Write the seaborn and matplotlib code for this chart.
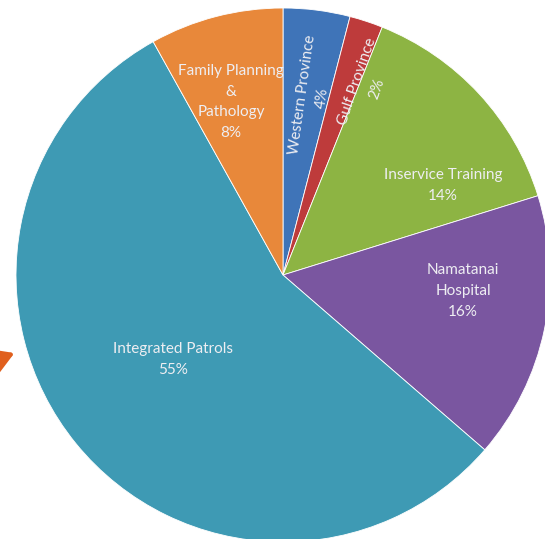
import matplotlib
matplotlib.use("Agg")
import matplotlib.pyplot as plt
import seaborn as sns
import numpy as np

sns.set_theme(style="white")
plt.rcParams["font.family"] = ["Lato", "DejaVu Sans"]

# Share of activities, clockwise from 12 o'clock
categories = ["Western Province", "Gulf Province", "Inservice Training",
              "Namatanai\nHospital", "Integrated Patrols", "Family Planning\n&\nPathology"]
shares = [4, 2, 14, 16, 55, 8]
colors = ["#3F74B8", "#BE3B3B", "#8DB443", "#7A56A0", "#3E9AB4", "#E8883A"]

# Label placement inside each wedge (data units, pie radius = 1) and rotation
label_pos = [(0.110, 0.670), (0.315, 0.712), (0.600, 0.335),
             (0.674, -0.060), (-0.412, -0.315), (-0.195, 0.648)]
label_rot = [82, 71, 0, 0, 0, 0]

fig = plt.figure(figsize=(5.45, 5.39), dpi=100)
ax = fig.add_axes([0, 0, 1, 1])

wedges, _ = ax.pie(shares, colors=colors, startangle=90, counterclock=False,
                   wedgeprops=dict(linewidth=0.6, edgecolor="white"))

for name, val, (x, y), rot in zip(categories, shares, label_pos, label_rot):
    ax.text(x, y, f"{name}\n{val}%", ha="center", va="center", rotation=rot,
            rotation_mode="anchor", color="#EEEEF2", fontsize=11,
            linespacing=1.62)

# Pie centre sits at (283, 275) px with a radius of 267 px
px = 267.0
ax.set_xlim(-283 / px, (545 - 283) / px)
ax.set_ylim(-(539 - 275) / px, 275 / px)
ax.set_axis_off()

# Orange pointer arrow entering from the left edge
tip = np.array([17 / 545, 1 - 352 / 539])
ang = np.radians(22)
direction = np.array([np.cos(ang), np.sin(ang) * 545 / 539])
ax.annotate("", xy=tip, xycoords="figure fraction",
            xytext=tip - 0.25 * direction, textcoords="figure fraction",
            arrowprops=dict(arrowstyle="-|>,head_length=1.0,head_width=0.6",
                            color="#E0601E", lw=3, mutation_scale=18),
            annotation_clip=False)

fig.savefig("out.png", dpi=100)
